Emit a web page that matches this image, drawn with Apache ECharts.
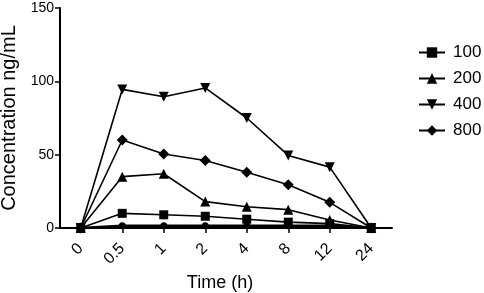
<!DOCTYPE html>
<html>
<head>
<meta charset="utf-8">
<script src="https://cdn.jsdelivr.net/npm/echarts@6/dist/echarts.min.js"></script>
<style>
html,body{margin:0;padding:0;background:#fff;}
#chart{width:484px;height:293px;}
</style>
</head>
<body>
<div id="chart"></div>
<script>
var categories = ['0', '0.5', '1', '2', '4', '8', '12', '24'];
var s100 = [0, 10, 9, 8, 6, 4, 3, 0];
var s200 = [0, 35, 37, 18, 14.5, 12.5, 5.5, 0];
var s400 = [0, 94.5, 89.5, 95.5, 75, 49.5, 41.5, 0];
var s800 = [0, 60, 50.5, 46, 38, 29.5, 17.5, 0];
var sBase = [0, 1.5, 1.5, 1.5, 1.5, 1.5, 1.5, 0];
var yTicks = [0, 50, 100, 150];

var font = 'Liberation Sans, Arial, sans-serif';
function mk(name, data, symbol, rot, size) {
  return {
    name: name, type: 'line', data: data, symbol: symbol, symbolSize: size,
    symbolRotate: rot || 0,
    lineStyle: {color: '#000', width: 1.6},
    itemStyle: {color: '#000'},
    emphasis: {disabled: true}, animation: false, z: 3
  };
}
var chart = echarts.init(document.getElementById('chart'));
chart.setOption({
  animation: false,
  backgroundColor: '#fff',
  grid: {left: 60, top: 8, width: 332, height: 220, containLabel: false, outerBoundsMode: 'none'},
  legend: {
    data: ['100', '200', '400', '800'],
    orient: 'vertical', left: 413, top: 39, itemGap: 9,
    itemWidth: 26, itemHeight: 13,
    textStyle: {fontFamily: font, fontSize: 17, color: '#000', padding: [0, 0, 0, 3]}
  },
  xAxis: {
    type: 'category', data: categories, boundaryGap: true,
    axisLine: {lineStyle: {color: '#000', width: 2}},
    axisTick: {show: true, alignWithLabel: true, length: 5, lineStyle: {color: '#000', width: 1.5}},
    axisLabel: {rotate: 45, fontFamily: font, fontSize: 16, color: '#000', margin: 18},
    name: 'Time (h)', nameLocation: 'middle', nameGap: 44,
    nameTextStyle: {fontFamily: font, fontSize: 18, color: '#000', padding: [0, 12, 0, 0]}
  },
  yAxis: {
    type: 'value', min: 0, max: 150, interval: 50,
    axisLine: {show: true, lineStyle: {color: '#000', width: 2}},
    axisTick: {show: true, length: 5, lineStyle: {color: '#000', width: 1.5}},
    splitLine: {show: false},
    axisLabel: {fontFamily: font, fontSize: 14, color: '#000', margin: 6, formatter: function(v){ return yTicks.indexOf(v) >= 0 ? String(v) : ''; }},
    name: 'Concentration ng/mL', nameLocation: 'middle', nameGap: 40,
    nameTextStyle: {fontFamily: font, fontSize: 20, color: '#000'}
  },
  series: [
    mk('100', s100, 'rect', 0, 9),
    mk('200', s200, 'triangle', 0, 10),
    mk('400', s400, 'triangle', 180, 10),
    mk('800', s800, 'diamond', 0, 11),
    Object.assign(mk('base', sBase, 'circle', 0, 7), {lineStyle: {color: '#000', width: 2.5}})
  ]
});
</script>
</body>
</html>
